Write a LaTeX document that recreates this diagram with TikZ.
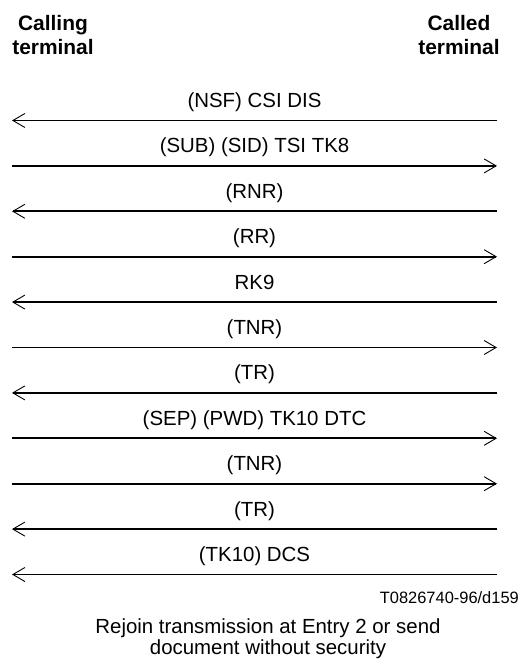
\documentclass[tikz,border=0pt]{standalone}
\usepackage{fontspec}
\setmainfont{Liberation Sans}
\usetikzlibrary{arrows.meta}
\begin{document}
\begin{tikzpicture}[x=1bp,y=-1bp,
  msg/.style={line width=1.8bp, -{Straight Barb[length=12bp,width=14bp,line width=0.9bp]}},
  lbl/.style={anchor=base, inner sep=0pt, font=\fontsize{20.5}{24}\selectfont},
  ttl/.style={align=center, inner sep=0pt, font=\fontsize{21}{24}\selectfont\bfseries}]
\useasboundingbox (0,0) rectangle (520,662);
\node[ttl] (calling) at (53,35) {Calling\\terminal};
\node[ttl] (called) at (459,35) {Called\\terminal};
\foreach \i/\d/\t in {1/l/{(NSF) CSI DIS}, 2/r/{(SUB) (SID) TSI TK8}, 3/l/{(RNR)}, 4/r/{(RR)}, 5/l/{RK9}, 6/r/{(TNR)}, 7/l/{(TR)}, 8/r/{(SEP) (PWD) TK10 DTC}, 9/r/{(TNR)}, 10/l/{(TR)}, 11/l/{(TK10) DCS}} {
  \pgfmathsetmacro\yy{120.5+45.4*(\i-1)}
  \coordinate (w\i) at (12,\yy);
  \coordinate (e\i) at (497,\yy);
  \node[lbl] (m\i) at (254.5,\yy-13) {\t};
  \if\d l
    \draw[msg] (e\i) -- (w\i);
  \else
    \draw[msg] (w\i) -- (e\i);
  \fi
}
\node[anchor=base east, inner sep=0pt, font=\fontsize{16.5}{20}\selectfont] (ref) at (519,603) {T0826740-96/d159};
\node[align=center, inner sep=0pt, font=\fontsize{20.5}{21.5}\selectfont] (note) at (268,638.5) {Rejoin transmission at Entry 2 or send\\document without security};
\end{tikzpicture}
\end{document}
